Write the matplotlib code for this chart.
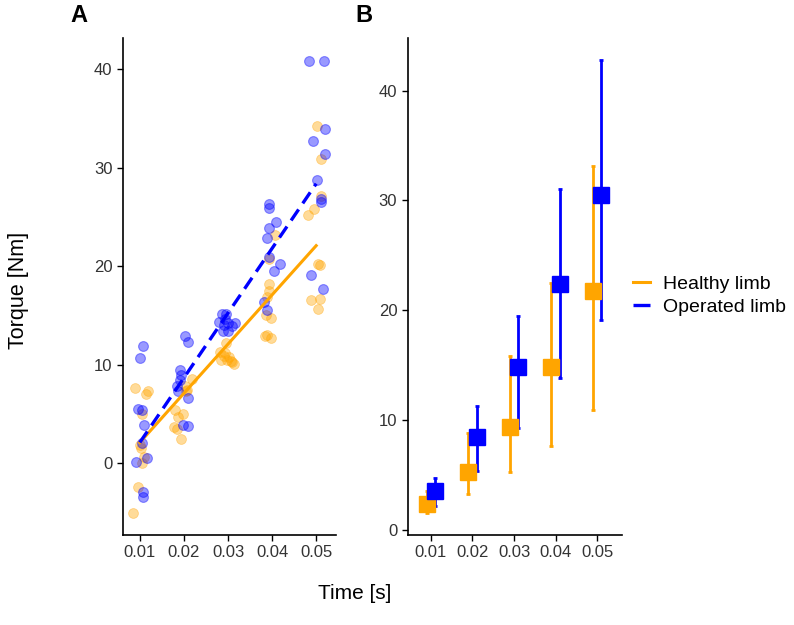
"""Torque vs time for healthy and operated limb: raw points with lm fit (A), mean +/- error (B)."""
import numpy as np
import matplotlib
matplotlib.use("Agg")
import matplotlib.pyplot as plt
from matplotlib.lines import Line2D

plt.rcParams["font.family"] = ["Liberation Sans", "DejaVu Sans"]

# panel A: jittered raw measurements
healthy_t = [0.0089, 0.0119, 0.0115, 0.0106, 0.0100, 0.0102, 0.0106, 0.0110, 0.0096, 0.0085,
             0.0218, 0.0202, 0.0205, 0.0208, 0.0180, 0.0186, 0.0198, 0.0184, 0.0177, 0.0194,
             0.0296, 0.0281, 0.0294, 0.0283, 0.0298, 0.0309, 0.0314, 0.0303, 0.0290, 0.0306,
             0.0406, 0.0392, 0.0392, 0.0388, 0.0386, 0.0398, 0.0389, 0.0398, 0.0383, 0.0392,
             0.0501, 0.0512, 0.0512, 0.0494, 0.0481, 0.0504, 0.0509, 0.0488, 0.0508, 0.0504]
healthy_y = [7.6, 7.3, 7.0, 5.0, 1.8, 1.5, 0.0, 0.6, -2.4, -5.1,
             8.6, 7.8, 7.3, 7.4, 5.4, 4.7, 5.0, 3.5, 3.7, 2.5,
             12.2, 11.3, 11.2, 10.5, 10.5, 10.3, 10.1, 10.75, 10.9, 10.4,
             23.2, 20.7, 18.2, 16.9, 15.1, 14.8, 13.0, 12.7, 12.9, 17.5,
             34.3, 30.9, 27.1, 25.8, 25.2, 20.2, 20.1, 16.6, 16.7, 15.7]
operated_t = [0.0107, 0.0101, 0.0096, 0.0106, 0.0110, 0.0104, 0.0092, 0.0117, 0.0107, 0.0108,
              0.0203, 0.0209, 0.0190, 0.0194, 0.0190, 0.0185, 0.0187, 0.0209, 0.0197, 0.0210,
              0.0286, 0.0296, 0.0280, 0.0316, 0.0290, 0.0301, 0.0288, 0.0299, 0.0308, 0.0294,
              0.0392, 0.0392, 0.0409, 0.0392, 0.0388, 0.0394, 0.0418, 0.0405, 0.0382, 0.0388,
              0.0484, 0.0518, 0.0520, 0.0492, 0.0520, 0.0502, 0.0512, 0.0511, 0.0488, 0.0516]
operated_y = [11.9, 10.65, 5.5, 5.4, 3.9, 2.0, 0.1, 0.5, -2.9, -3.4,
              12.9, 12.3, 9.5, 8.95, 8.4, 7.8, 7.3, 6.6, 3.9, 3.8,
              15.2, 15.2, 14.3, 14.2, 14.0, 14.2, 13.4, 13.4, 13.9, 14.6,
              26.3, 25.9, 24.5, 23.9, 22.9, 20.9, 20.2, 19.5, 16.4, 15.6,
              40.9, 40.9, 34.0, 32.7, 31.4, 28.8, 26.5, 26.8, 19.1, 17.7]

# linear fits as drawn (value at first and last time)
fit_t = [0.01, 0.05]
fit_healthy = [2.1, 22.1]
fit_operated = [2.1, 28.4]

# panel B: summary per time point
times = [0.01, 0.02, 0.03, 0.04, 0.05]
healthy_mean = [2.3, 5.2, 9.3, 14.8, 21.7]
healthy_lo = [1.5, 3.2, 5.2, 7.6, 10.9]
healthy_hi = [3.5, 8.8, 15.8, 22.5, 33.1]
operated_mean = [3.5, 8.4, 14.85, 22.4, 30.5]
operated_lo = [2.15, 5.3, 9.25, 13.8, 19.1]
operated_hi = [4.7, 11.3, 19.5, 31.0, 42.8]

C_H, C_O = "#FFA500", "#0000FF"
TICK_C = "#333333"


def style(ax):
    for s in ("top", "right"):
        ax.spines[s].set_visible(False)
    for s in ("left", "bottom"):
        ax.spines[s].set_linewidth(1.2)
    ax.tick_params(length=4, width=1.0, labelsize=12, labelcolor=TICK_C)
    ax.set_xticks(times)
    ax.set_xticklabels([f"{t:.2f}" for t in times])


fig = plt.figure(figsize=(7.94, 6.25), dpi=100)
ax1 = fig.add_axes([0.1549, 0.144, 0.2683, 0.7952])
ax2 = fig.add_axes([0.5135, 0.144, 0.2695, 0.7952])

ax1.scatter(healthy_t, healthy_y, s=50, color=C_H, alpha=0.4, lw=0.6, zorder=2)
ax1.scatter(operated_t, operated_y, s=50, color=C_O, alpha=0.4, lw=0.8, zorder=2)
ax1.plot(fit_t, fit_healthy, color=C_H, lw=2.2, zorder=3)
ax1.plot(fit_t, fit_operated, color=C_O, lw=2.4, dashes=(4, 2.2), zorder=4)
ax1.set_xlim(0.00618, 0.0545)
ax1.set_ylim(-7.3, 43.2)
ax1.set_yticks([0, 10, 20, 30, 40])
style(ax1)

dx = 0.001
for xs, m, lo, hi, c in [(np.array(times) - dx, healthy_mean, healthy_lo, healthy_hi, C_H),
                         (np.array(times) + dx, operated_mean, operated_lo, operated_hi, C_O)]:
    m = np.array(m)
    err = [m - np.array(lo), np.array(hi) - m]
    ax2.errorbar(xs, m, yerr=err, fmt="s", color=c, ms=11, elinewidth=2.0,
                 capsize=1.5, capthick=2.0)
ax2.set_xlim(0.00448, 0.05586)
ax2.set_ylim(-0.5, 44.8)
ax2.set_yticks([0, 10, 20, 30, 40])
style(ax2)

handles = [Line2D([], [], color=C_H, lw=2.2),
           Line2D([], [], color=C_O, lw=2.4, dashes=(5.4, 3))]
fig.legend(handles, ["Healthy limb", "Operated limb"], loc="center left",
           bbox_to_anchor=(0.7874, 0.527), frameon=False, fontsize=14,
           handlelength=0.88, handletextpad=0.67, labelspacing=0.3,
           borderaxespad=0)

fig.text(0.447, 0.051, "Time [s]", ha="center", va="center", fontsize=15)
fig.text(0.023, 0.536, "Torque [Nm]", ha="center", va="center", rotation=90, fontsize=15.5)
fig.text(0.1, 0.975, "A", ha="center", va="center", fontsize=17, fontweight="bold")
fig.text(0.458, 0.975, "B", ha="center", va="center", fontsize=17, fontweight="bold")

fig.savefig("out.png", dpi=100)
